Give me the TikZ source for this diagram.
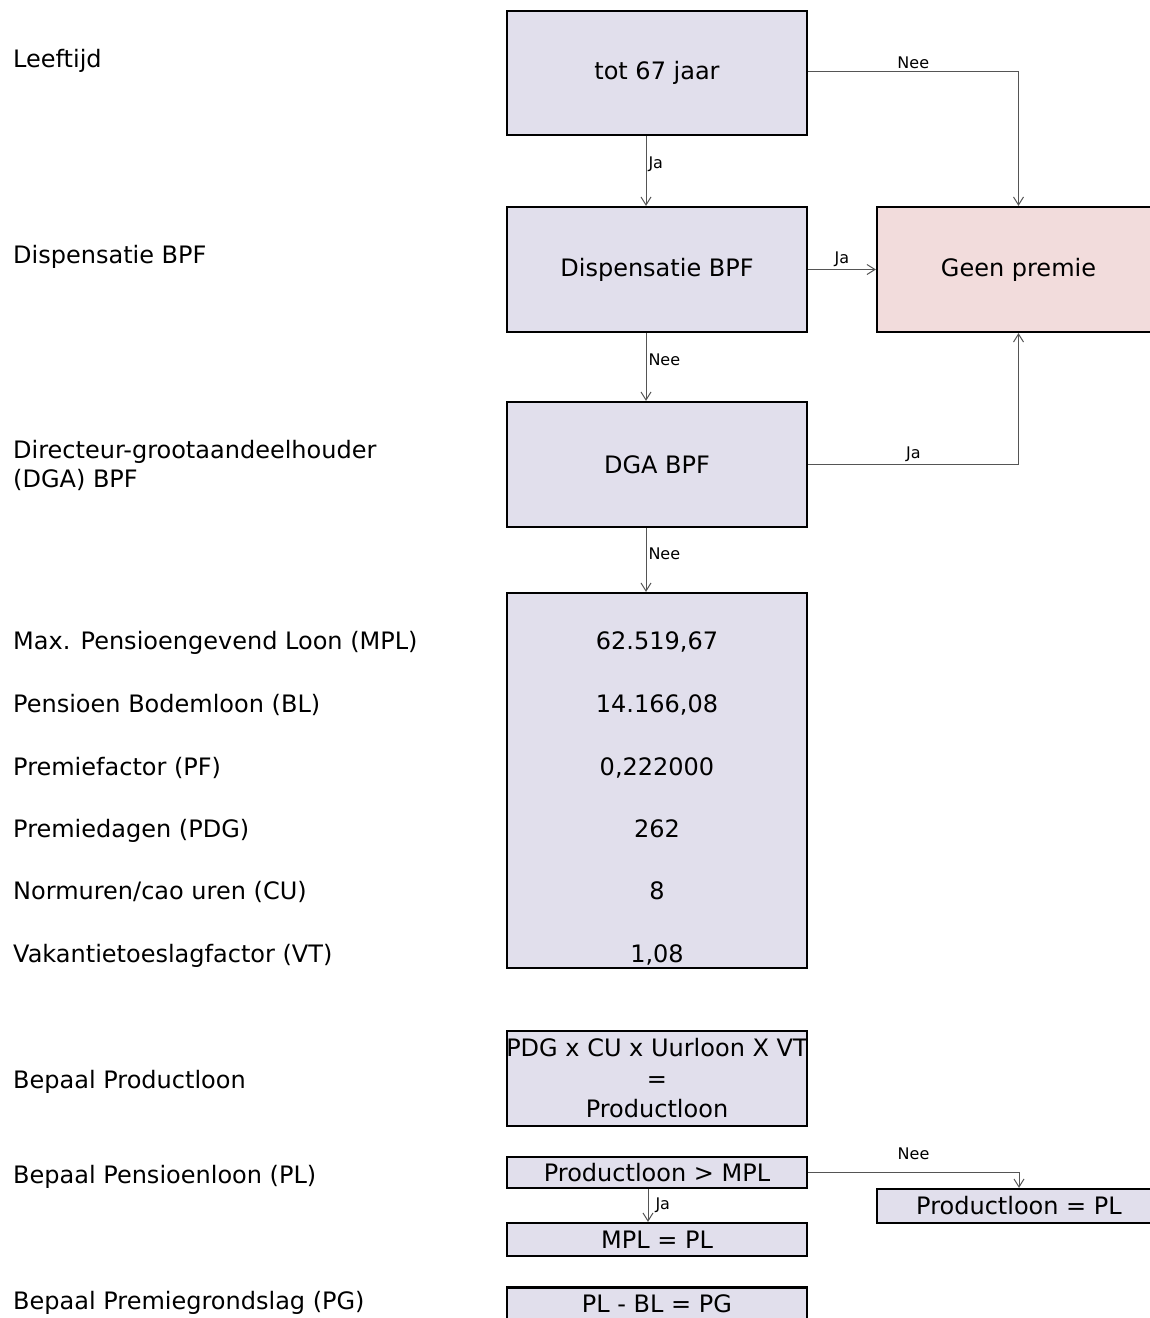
\documentclass[tikz,border=0pt]{standalone}
\usepackage{fontspec}
\setmainfont{DejaVu Sans}
\usepackage{xcolor}
\usetikzlibrary{arrows.meta}

\definecolor{boxlila}{HTML}{E1DFEC}
\definecolor{boxroze}{HTML}{F2DCDC}
\definecolor{lijngrijs}{HTML}{555555}

\begin{document}
\begin{tikzpicture}[
            x=1pt, y=-1pt,
            box/.style={
                    draw,
                    line width=2.2pt,
                    fill=boxlila,
                    minimum width=300pt,
                    inner sep=0pt,
                    align=center,
                    font=\fontsize{24}{30.5}\selectfont
                },
            rij/.style={
                    anchor=base west,
                    inner sep=0pt,
                    align=left,
                    font=\fontsize{24}{29}\selectfont
                },
            waarde/.style={
                    anchor=base,
                    inner sep=0pt,
                    font=\fontsize{24}{30}\selectfont
                },
            arrow/.style={
                    -{Straight Barb[length=8pt,width=10pt]},
                    draw=lijngrijs,
                    line width=1pt
                },
            keuze/.style={
                    inner sep=2pt,
                    font=\fontsize{16}{19}\selectfont
                }
        ]

        \useasboundingbox (0,0) rectangle (1150,1318);


        \node[rij] (r1) at (13,67) {Leeftijd};
        \node[rij] (r2) at (13,263) {Dispensatie BPF};
        \node[rij] (r3) at (13,487) {Directeur-grootaandeelhouder\\(DGA) BPF};
        \node[rij] (r4) at (13,649) {Max. Pensioengevend Loon (MPL)};
        \node[rij] (r5) at (13,712) {Pensioen Bodemloon (BL)};
        \node[rij] (r6) at (13,775) {Premiefactor (PF)};
        \node[rij] (r7) at (13,837) {Premiedagen (PDG)};
        \node[rij] (r8) at (13,899) {Normuren/cao uren (CU)};
        \node[rij] (r9) at (13,962) {Vakantietoeslagfactor (VT)};
        \node[rij] (r10) at (13,1088) {Bepaal Productloon};
        \node[rij] (r11) at (13,1183) {Bepaal Pensioenloon (PL)};
        \node[rij] (r12) at (13,1309) {Bepaal Premiegrondslag (PG)};


        \node[box, minimum height=124pt] (leeftijd) at (657,73)
        {tot 67 jaar};


        \node[box, minimum height=125pt] (disp) at (657,269.5)
        {Dispensatie BPF};


        \node[box, fill=boxroze, minimum width=283pt, minimum height=125pt] (geen) at (1018.5,269.5)
        {Geen premie};


        \node[box, minimum height=125pt] (dga) at (657,464.5)
        {DGA BPF};


        \node[box, minimum height=375pt] (params) at (657,780.5) {};

        \node[waarde] (mpl) at (657,649) {62.519,67};
        \node[waarde] (bl) at (657,712) {14.166,08};
        \node[waarde] (pf) at (657,775) {0,222000};
        \node[waarde] (pdg) at (657,837) {262};
        \node[waarde] (cu) at (657,899) {8};
        \node[waarde] (vt) at (657,962) {1,08};


        \node[box, minimum height=95pt] (prodloon) at (657,1078.5)
        {\makebox[0pt]{PDG x CU x Uurloon X VT}\\=\\Productloon};


        \node[box, minimum height=31pt] (groter) at (657,1172.5)
        {Productloon > MPL};


        \node[box, minimum height=33pt] (mplpl) at (657,1239.5)
        {MPL = PL};


        \node[box, minimum width=284pt, minimum height=34pt] (prodpl) at (1019,1206)
        {Productloon = PL};


        \node[box, minimum height=33pt] (plbl) at (657,1304)
        {PL - BL = PG};


        \draw[arrow]([xshift=-11pt]leeftijd.south)--([xshift=-11pt]disp.north)
            node[keuze, pos=0.4, right] {Ja};
        \draw[arrow]([yshift=2pt]leeftijd.east)-|(geen.north)
            node[keuze, pos=0.25, above] {Nee};
        \draw[arrow](disp.east)--(geen.west)
            node[keuze, midway, above] {Ja};
        \draw[arrow]([xshift=-11pt]disp.south)--([xshift=-11pt]dga.north)
            node[keuze, pos=0.4, right] {Nee};
        \draw[arrow](dga.east)-|(geen.south)
            node[keuze, pos=0.25, above] {Ja};
        \draw[arrow]([xshift=-11pt]dga.south)--([xshift=-11pt]params.north)
            node[keuze, pos=0.4, right] {Nee};
        \draw[arrow](groter.east)-|(prodpl.north)
            node[keuze, pos=0.25, above, yshift=10pt] {Nee};
        \draw[arrow]([xshift=-9pt]groter.south)--([xshift=-9pt]mplpl.north)
            node[keuze, midway, right, xshift=5pt] {Ja};


    \end{tikzpicture}
\end{document}
